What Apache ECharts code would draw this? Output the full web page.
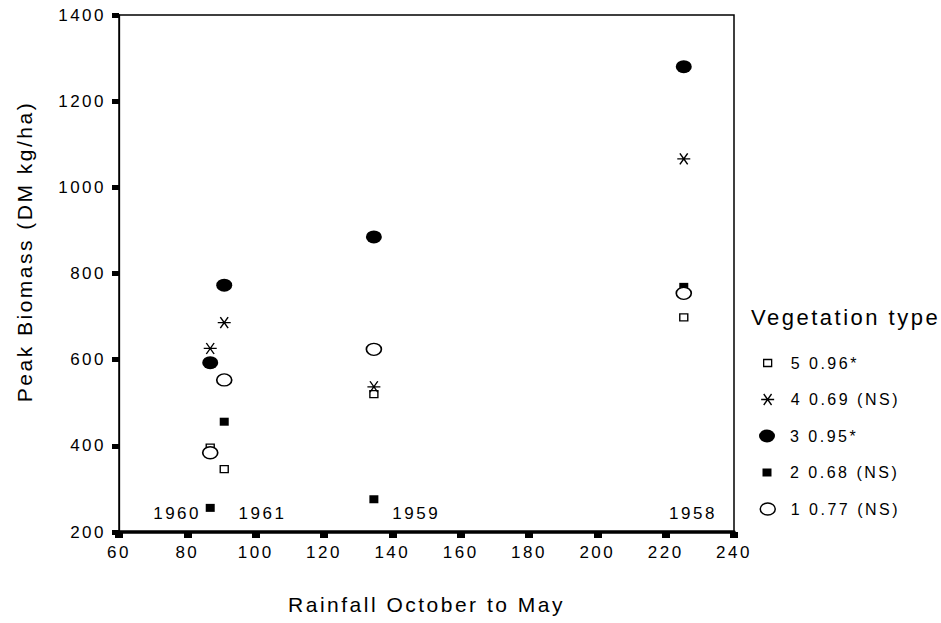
<!DOCTYPE html>
<html>
<head>
<meta charset="utf-8">
<script src="https://cdn.jsdelivr.net/npm/echarts@6/dist/echarts.min.js"></script>
<style>
  html, body { margin: 0; padding: 0; background: #fff; }
  #chart { width: 941px; height: 623px; }
  #chart text { letter-spacing: 2.5px; }
</style>
</head>
<body>
<div id="chart"></div>
<script>
// rainfall (Oct-May) for each season, in the order 1960, 1961, 1959, 1958
const rainfall = [86.7, 90.8, 134.6, 225.3];
const years = ["1960", "1961", "1959", "1958"];
// where the year captions sit, in data units
const yearLabelX = [77, 102, 147, 228];
const yearLabelY = 244;

const seriesNames = ["5 0.96*", "4 0.69 (NS)", "3 0.95*", "2 0.68 (NS)", "1 0.77 (NS)"];
const type5 = [396, 346, 520, 698];
const type4 = [626, 686, 537, 1066];
const type3 = [593, 773, 885, 1280];
const type2 = [256, 456, 276, 769];
const type1 = [384, 553, 624, 754];
const values = [type5, type4, type3, type2, type1];

const FONT = "Liberation Sans";
const ELLIPSE = "path://M-1,0A1,1,0,1,1,1,0A1,1,0,1,1,-1,0Z";
const STAR = "path://M-1,0L1,0M-0.6,-1L0.6,1M0.6,-1L-0.6,1";

const markers = [
  { symbol: "rect", size: [8, 7], fill: "#fff", width: 1.3 },
  { symbol: STAR, size: [13, 11], fill: "#000", width: 1.3 },
  { symbol: ELLIPSE, size: [16, 13], fill: "#000", width: 0 },
  { symbol: "rect", size: [9, 8], fill: "#000", width: 0 },
  { symbol: ELLIPSE, size: [15, 12], fill: "#fff", width: 1.5 }
];

// legend layout
const legendIconX = 767;
const legendTextX = 790;
const legendRowY = [363, 399.5, 436, 472.5, 509];

const chart = echarts.init(document.getElementById("chart"), null, { renderer: "svg" });

const series = values.map((vals, i) => ({
  name: seriesNames[i],
  type: "scatter",
  data: vals.map((v, j) => [rainfall[j], v]),
  symbol: markers[i].symbol,
  symbolSize: markers[i].size,
  symbolKeepAspect: false,
  itemStyle: { color: markers[i].fill, borderColor: "#000", borderWidth: markers[i].width, opacity: 1 },
  emphasis: { disabled: true },
  silent: true
}));

series.push({
  name: "years",
  type: "scatter",
  data: years.map((y, i) => ({ value: [yearLabelX[i], yearLabelY], label: { formatter: y } })),
  symbolSize: 0,
  itemStyle: { color: "#000", opacity: 1 },
  label: { show: true, position: "inside", color: "#000", fontSize: 17, fontFamily: FONT, textBorderWidth: 0 },
  emphasis: { disabled: true },
  silent: true
});

const legends = seriesNames.map((name, i) => {
  const [w, h] = markers[i].size;
  return {
    data: [name],
    orient: "vertical",
    padding: 0,
    left: legendIconX - w / 2,
    top: legendRowY[i] - 8,
    itemWidth: w,
    itemHeight: h,
    symbolKeepAspect: false,
    selectedMode: false,
    itemStyle: { color: markers[i].fill, borderColor: "#000", borderWidth: markers[i].width },
    textStyle: {
      fontSize: 16, fontFamily: FONT, color: "#000",
      padding: [0, 0, 0, legendTextX - (legendIconX + w / 2 + 5)]
    }
  };
});

chart.setOption({
  animation: false,
  backgroundColor: "#fff",
  textStyle: { fontFamily: FONT, color: "#000" },
  title: {
    text: "Vegetation type", left: 751, top: 306, padding: 0,
    textStyle: { fontSize: 22, fontWeight: "normal", fontFamily: FONT, color: "#000" }
  },
  legend: legends,
  grid: {
    left: 119, right: 207, top: 15, bottom: 91,
    show: true, borderColor: "#000", borderWidth: 1.5,
    outerBoundsMode: "none"
  },
  xAxis: {
    type: "value", min: 60, max: 240, interval: 20,
    splitLine: { show: false },
    axisLine: { show: true, onZero: false, lineStyle: { color: "#000", width: 3.5 } },
    axisTick: { show: true, length: 6, lineStyle: { color: "#000", width: 8 } },
    axisLabel: { margin: 12, fontSize: 17, color: "#000", fontFamily: FONT, formatter: (v) => String(v) },
    name: "Rainfall October to May", nameLocation: "middle", nameGap: 62,
    nameTextStyle: { fontSize: 21, color: "#000", fontFamily: FONT }
  },
  yAxis: {
    type: "value", min: 200, max: 1400, interval: 200,
    splitLine: { show: false },
    axisLine: { show: true, onZero: false, lineStyle: { color: "#000", width: 1.3 } },
    axisTick: { show: true, length: 7, lineStyle: { color: "#000", width: 5 } },
    axisLabel: { margin: 13, fontSize: 17, color: "#000", fontFamily: FONT, formatter: (v) => String(v) },
    name: "Peak Biomass (DM kg/ha)", nameLocation: "middle", nameGap: 84,
    nameTextStyle: { fontSize: 21, color: "#000", fontFamily: FONT, padding: [0, 0, 0, 44] }
  },
  series: series
});
</script>
</body>
</html>
